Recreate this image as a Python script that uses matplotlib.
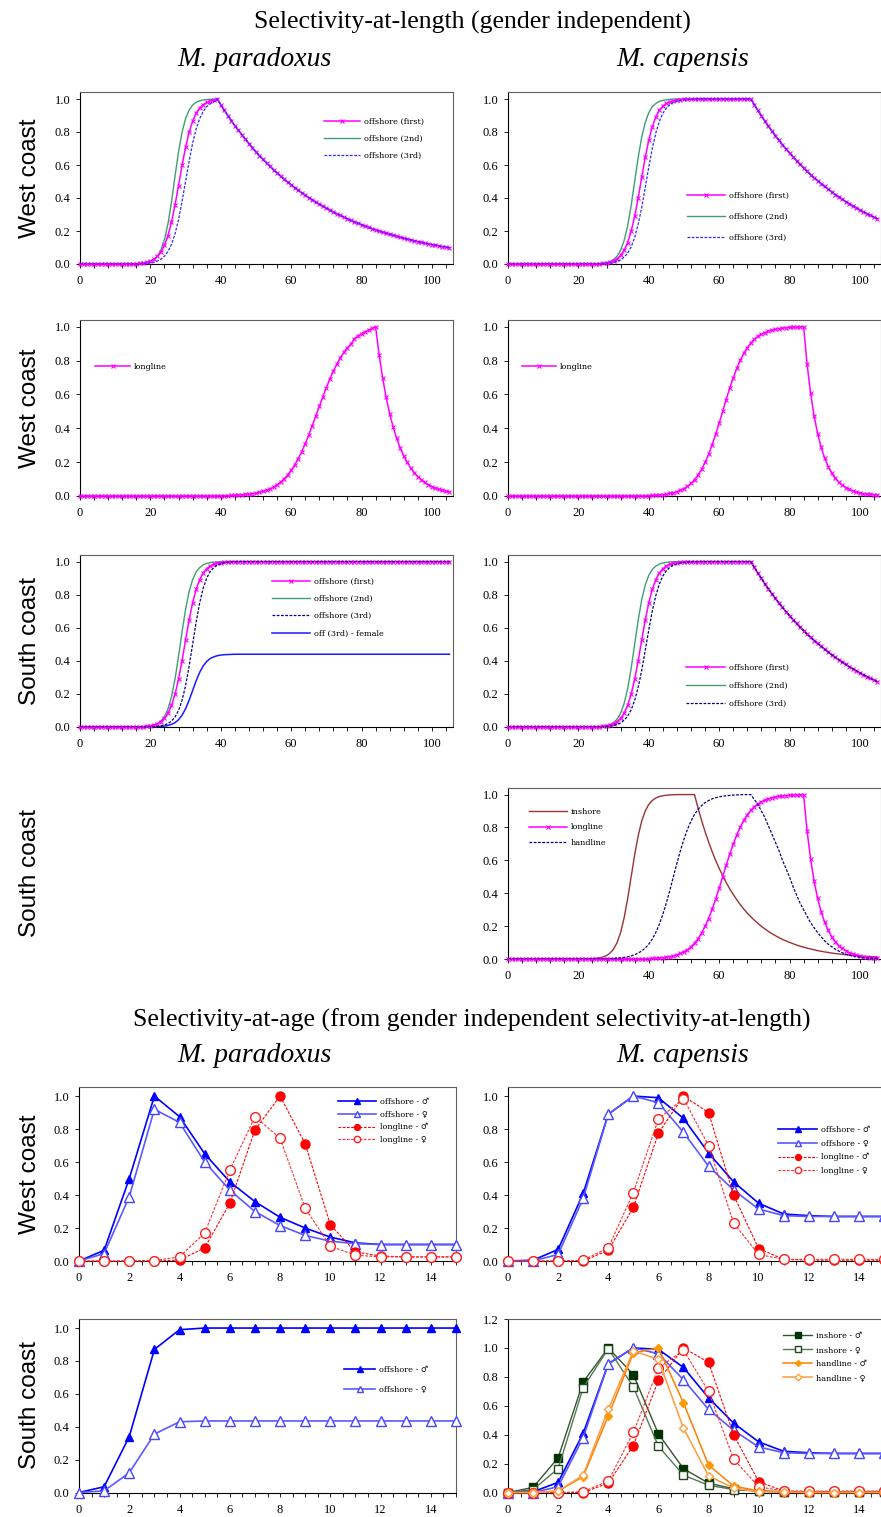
import numpy as np
import matplotlib.pyplot as plt
from matplotlib.ticker import MultipleLocator, FormatStrFormatter

# ---------------- data: selectivity-at-length (1 cm classes, 0-105 cm) ----------------
lengths = np.arange(0, 106)

# M. paradoxus, west coast, offshore
pw_off1_up = [0.001, 0.0015, 0.0025, 0.004, 0.0067, 0.011, 0.018, 0.029, 0.046, 0.072, 0.113, 0.172,
              0.254, 0.357, 0.475, 0.597, 0.707, 0.797, 0.865, 0.913, 0.945, 0.965, 0.979, 0.987, 0.992]  # 14-38
pw_off2_up = [0.004, 0.0075, 0.014, 0.026, 0.047, 0.085, 0.148, 0.244, 0.377, 0.531, 0.679, 0.799, 0.881,
              0.933, 0.963, 0.980, 0.989, 0.994, 0.997, 0.998, 0.999]  # 18-38
pw_off3_up = [0.0025, 0.004, 0.0067, 0.011, 0.018, 0.029, 0.047, 0.076, 0.119, 0.182, 0.269, 0.378, 0.5,
              0.622, 0.731, 0.818, 0.881, 0.924, 0.953, 0.971, 0.982]  # 18-38
pw_off_down = [1.000, 0.966, 0.932, 0.900, 0.869, 0.839, 0.811, 0.783, 0.756, 0.730, 0.705, 0.680, 0.657,
               0.634, 0.613, 0.592, 0.571, 0.552, 0.533, 0.514, 0.497, 0.480, 0.463, 0.447, 0.432, 0.417,
               0.403, 0.389, 0.375, 0.362, 0.350, 0.338, 0.326, 0.315, 0.304, 0.294, 0.284, 0.274, 0.264,
               0.255, 0.247, 0.238, 0.230, 0.222, 0.214, 0.207, 0.200, 0.193, 0.186, 0.180, 0.174, 0.168,
               0.162, 0.156, 0.151, 0.146, 0.141, 0.136, 0.131, 0.127, 0.122, 0.118, 0.114, 0.110, 0.106,
               0.103, 0.099]  # 39-105

# M. capensis, offshore (west and south coast look the same)
cw_off1_up = [0.0027, 0.0045, 0.0074, 0.012, 0.020, 0.032, 0.052, 0.083, 0.130, 0.198, 0.289, 0.401, 0.525,
              0.646, 0.750, 0.832, 0.891, 0.931, 0.957, 0.973, 0.984, 0.990, 0.994, 0.996, 0.998]  # 26-50
cw_off2_up = [0.0025, 0.0045, 0.008, 0.015, 0.027, 0.047, 0.083, 0.142, 0.231, 0.354, 0.5, 0.646, 0.769,
              0.858, 0.917, 0.953, 0.973, 0.985, 0.992, 0.995, 0.998]  # 26-46
cw_off3_up = [0.0035, 0.0058, 0.0095, 0.0155, 0.025, 0.041, 0.066, 0.104, 0.161, 0.241, 0.343, 0.463, 0.587,
              0.701, 0.794, 0.864, 0.913, 0.945, 0.966, 0.979, 0.987, 0.992, 0.995, 0.997, 0.998]  # 28-52
cw_off_down = [1.000, 0.965, 0.931, 0.898, 0.866, 0.835, 0.806, 0.777, 0.750, 0.723, 0.698, 0.673, 0.649,
               0.626, 0.604, 0.583, 0.562, 0.542, 0.523, 0.505, 0.487, 0.470, 0.453, 0.437, 0.421, 0.407,
               0.392, 0.378, 0.365, 0.352, 0.340, 0.327, 0.316, 0.305, 0.294, 0.284, 0.274]  # 69-105

# longline
pw_ll_up = [0.0018, 0.0023, 0.0028, 0.0036, 0.0045, 0.0056, 0.0071, 0.0089, 0.011, 0.014, 0.018, 0.022,
            0.028, 0.034, 0.043, 0.053, 0.066, 0.082, 0.101, 0.124, 0.151, 0.183, 0.220, 0.262, 0.309, 0.360,
            0.415, 0.471, 0.529, 0.585, 0.640, 0.691, 0.738, 0.780, 0.817, 0.849, 0.876, 0.899, 0.93, 0.945,
            0.96, 0.97, 0.98, 0.99]  # 40-83
pw_ll_down = [1.0, 0.835, 0.698, 0.583, 0.487, 0.407, 0.340, 0.284, 0.237, 0.198, 0.165, 0.138, 0.115,
              0.096, 0.080, 0.067, 0.056, 0.047, 0.039, 0.033, 0.027, 0.023]  # 84-105
cw_ll_up = [0.0028, 0.0037, 0.0049, 0.0064, 0.0085, 0.011, 0.015, 0.019, 0.026, 0.034, 0.044, 0.057, 0.074,
            0.096, 0.123, 0.157, 0.198, 0.246, 0.302, 0.364, 0.430, 0.5, 0.570, 0.636, 0.698, 0.754, 0.802,
            0.843, 0.877, 0.904, 0.926, 0.943, 0.956, 0.966, 0.974, 0.981, 0.985, 0.989, 0.992, 0.994, 0.996,
            0.997, 0.998, 0.999]  # 40-83
cw_ll_down = [1.0, 0.779, 0.607, 0.472, 0.368, 0.287, 0.223, 0.174, 0.135, 0.105, 0.082, 0.064, 0.050,
              0.039, 0.030, 0.024, 0.018, 0.014, 0.011, 0.009, 0.007, 0.005]  # 84-105

# M. paradoxus, south coast, offshore
ps_off1_up = [0.001, 0.0017, 0.0027, 0.0045, 0.0074, 0.012, 0.020, 0.032, 0.052, 0.083, 0.130, 0.198, 0.289,
              0.401, 0.525, 0.646, 0.750, 0.832, 0.891, 0.931, 0.957, 0.973, 0.984, 0.990, 0.994, 0.996,
              0.998]  # 16-42
ps_off2_up = [0.0018, 0.0033, 0.006, 0.011, 0.020, 0.036, 0.063, 0.109, 0.182, 0.289, 0.426, 0.574, 0.711,
              0.818, 0.891, 0.937, 0.964, 0.980, 0.989, 0.994, 0.997, 0.998]  # 18-39
ps_off3_up = [0.0014, 0.0024, 0.004, 0.007, 0.012, 0.021, 0.036, 0.060, 0.100, 0.161, 0.250, 0.366, 0.5,
              0.634, 0.750, 0.839, 0.900, 0.940, 0.964, 0.979, 0.988, 0.993, 0.996, 0.998]  # 20-43
ps_fem_up = [0.0006, 0.001, 0.0018, 0.003, 0.0053, 0.0092, 0.016, 0.026, 0.044, 0.071, 0.110, 0.161, 0.220,
             0.279, 0.330, 0.369, 0.396, 0.414, 0.424, 0.431, 0.435, 0.437, 0.438, 0.439]  # 20-43
ps_fem_top = 0.44

# M. capensis, south coast, inshore and handline
cs_in_up = [0.0008, 0.0014, 0.0024, 0.004, 0.007, 0.012, 0.021, 0.036, 0.060, 0.100, 0.161, 0.250, 0.366,
            0.5, 0.634, 0.750, 0.839, 0.900, 0.940, 0.964, 0.979, 0.988, 0.993, 0.996, 0.998, 0.999]  # 22-47
cs_in_down = [1.0, 0.918, 0.844, 0.775, 0.712, 0.654, 0.600, 0.552, 0.507, 0.465, 0.427, 0.393, 0.361,
              0.331, 0.304, 0.279, 0.257, 0.236, 0.217, 0.199, 0.183, 0.168, 0.154, 0.142, 0.130, 0.119,
              0.110, 0.101, 0.093, 0.085, 0.078, 0.072, 0.066, 0.061, 0.056, 0.051, 0.047, 0.043, 0.040,
              0.036, 0.033, 0.031, 0.028, 0.026, 0.024, 0.022, 0.020, 0.018, 0.017, 0.015, 0.014, 0.013,
              0.012]  # 53-105
cs_hl_up = [0.0036, 0.0051, 0.007, 0.0098, 0.0135, 0.0187, 0.026, 0.036, 0.049, 0.067, 0.090, 0.121, 0.161,
            0.211, 0.271, 0.341, 0.418, 0.5, 0.582, 0.659, 0.729, 0.789, 0.839, 0.879, 0.910, 0.933, 0.951,
            0.964, 0.974, 0.981, 0.986, 0.99, 0.993, 0.995, 0.997, 0.998, 0.999]  # 30-66
cs_hl_down = [1.0, 0.97, 0.94, 0.90, 0.86, 0.81, 0.76, 0.71, 0.66, 0.60, 0.55, 0.50, 0.44, 0.39, 0.34, 0.30,
              0.26, 0.22, 0.19, 0.16, 0.135, 0.11, 0.09, 0.075, 0.06, 0.048, 0.038, 0.03, 0.023, 0.018,
              0.014, 0.011, 0.008, 0.006, 0.005, 0.004, 0.003]  # 69-105

# ---------------- data: selectivity-at-age (0-15 yr) ----------------
ages = np.arange(0, 16)
pw_age_off_m = [0.0, 0.065, 0.50, 1.0, 0.875, 0.65, 0.48, 0.36, 0.265, 0.20, 0.145, 0.11, 0.10, 0.10, 0.10, 0.10]
pw_age_off_f = [0.0, 0.045, 0.39, 0.92, 0.84, 0.60, 0.43, 0.30, 0.215, 0.155, 0.12, 0.105, 0.10, 0.10, 0.10, 0.10]
pw_age_ll_m = [0.0, 0.0, 0.0, 0.0, 0.005, 0.08, 0.35, 0.795, 1.0, 0.71, 0.22, 0.055, 0.03, 0.025, 0.025, 0.025]
pw_age_ll_f = [0.0, 0.0, 0.0, 0.003, 0.025, 0.17, 0.55, 0.875, 0.745, 0.32, 0.09, 0.035, 0.025, 0.025, 0.025, 0.025]

cw_age_off_m = [0.0, 0.005, 0.07, 0.41, 0.89, 1.0, 0.99, 0.865, 0.655, 0.48, 0.35, 0.285, 0.275, 0.27, 0.27, 0.27]
cw_age_off_f = [0.0, 0.0, 0.04, 0.38, 0.89, 1.0, 0.96, 0.78, 0.575, 0.43, 0.315, 0.275, 0.27, 0.27, 0.27, 0.27]
cw_age_ll_m = [0.0, 0.0, 0.0, 0.0, 0.065, 0.325, 0.775, 1.0, 0.90, 0.40, 0.075, 0.01, 0.005, 0.005, 0.005, 0.005]
cw_age_ll_f = [0.0, 0.0, 0.0, 0.005, 0.08, 0.415, 0.86, 0.985, 0.70, 0.23, 0.04, 0.01, 0.01, 0.01, 0.01, 0.01]

ps_age_off_m = [0.0, 0.035, 0.34, 0.87, 0.99, 1.0, 1.0, 1.0, 1.0, 1.0, 1.0, 1.0, 1.0, 1.0, 1.0, 1.0]
ps_age_off_f = [0.0, 0.01, 0.12, 0.355, 0.43, 0.435, 0.435, 0.435, 0.435, 0.435, 0.435, 0.435, 0.435, 0.435, 0.435, 0.435]

cs_age_in_m = [0.0, 0.035, 0.24, 0.765, 1.0, 0.815, 0.405, 0.165, 0.065, 0.025, 0.01, 0.005, 0.003, 0.003, 0.003, 0.003]
cs_age_in_f = [0.0, 0.02, 0.165, 0.725, 0.995, 0.73, 0.32, 0.12, 0.05, 0.02, 0.01, 0.005, 0.003, 0.003, 0.003, 0.003]
cs_age_hl_m = [0.0, 0.0, 0.01, 0.11, 0.53, 0.965, 1.0, 0.62, 0.19, 0.045, 0.01, 0.003, 0.0, 0.0, 0.0, 0.0]
cs_age_hl_f = [0.0, 0.0, 0.01, 0.12, 0.575, 0.98, 0.92, 0.445, 0.115, 0.03, 0.005, 0.002, 0.0, 0.0, 0.0, 0.0]


def build(start, rise, fall=None, top=1.0):
    # zeros before the rise, flat top between rise and fall
    vals = [0.0] * start + list(rise)
    n_fall = 0 if fall is None else len(fall)
    vals += [top] * (len(lengths) - len(vals) - n_fall)
    if fall is not None:
        vals += list(fall)
    return np.array(vals)


W, H = 881, 1517
fig = plt.figure(figsize=(W / 100, H / 100), dpi=100)
LEG_FONT = ['DejaVu Serif', 'DejaVu Sans']

PINK = '#ff00ff'
GREEN = '#3f9f73'
BLUE = '#0000ff'
NAVY = '#000080'


def add_ax(left, top, right, bottom):
    return fig.add_axes([left / W, 1 - bottom / H, (right - left) / W, (bottom - top) / H])


def frame(ax):
    for s in ax.spines.values():
        s.set_color('#606060')
        s.set_linewidth(0.8)
    ax.spines['left'].set_color('black')
    ax.spines['bottom'].set_color('black')
    ax.tick_params(which='both', direction='out', length=3, width=0.6, labelsize=9,
                   top=False, right=False)
    ax.tick_params(axis='x', pad=5)
    ax.tick_params(axis='y', pad=4)
    for lab in ax.get_xticklabels() + ax.get_yticklabels():
        lab.set_family('Liberation Serif')
    ax.yaxis.set_major_formatter(FormatStrFormatter('%.1f'))


def style_len(ax):
    ax.set_xlim(0, 106)
    ax.set_ylim(0, 1.04)
    ax.xaxis.set_major_locator(MultipleLocator(20))
    ax.xaxis.set_minor_locator(MultipleLocator(4))
    ax.yaxis.set_major_locator(MultipleLocator(0.2))
    frame(ax)


def style_age(ax, ymax=1.055):
    ax.set_xlim(0, 15)
    ax.set_ylim(0, ymax)
    ax.xaxis.set_major_locator(MultipleLocator(2))
    ax.xaxis.set_minor_locator(MultipleLocator(0.5))
    ax.yaxis.set_major_locator(MultipleLocator(0.2))
    frame(ax)


def legend_at(ax, handles, x, y, spacing, hl_px, fs=5.9, mscale=1.0):
    fs_px = fs * 100 / 72
    ls = max((spacing - 1.25 * fs_px) / fs_px, 0.0)
    ax.legend(handles=handles, loc='upper left',
              bbox_to_anchor=(x / W, 1 - (y - 0.65 * fs_px) / H), bbox_transform=fig.transFigure,
              frameon=False, borderpad=0, borderaxespad=0, handlelength=hl_px / fs_px,
              handletextpad=0.5, labelspacing=ls, markerscale=mscale,
              prop={'family': LEG_FONT, 'size': fs})


def pink(ax, y, label):
    return ax.plot(lengths, y, color=PINK, lw=1.1, marker='x', ms=3.5, mew=0.8,
                   label=label, clip_on=False, zorder=3)[0]


def green(ax, y, label):
    return ax.plot(lengths, y, color=GREEN, lw=1.0, label=label, zorder=2)[0]


def dashed(ax, y, label, color):
    return ax.plot(lengths, y, color=color, lw=0.9, dashes=(2.2, 1.2), label=label, zorder=4)[0]


LEFT = (80, 453)
RIGHT = (508, 881)
ROWS = [(92.4, 264), (320, 496), (555, 727), (788, 959)]

# ---- row 1: west coast offshore ----
ax = add_ax(LEFT[0], ROWS[0][0], LEFT[1], ROWS[0][1])
h1 = pink(ax, build(14, pw_off1_up, pw_off_down), 'offshore (first)')
h2 = green(ax, build(18, pw_off2_up, pw_off_down), 'offshore (2nd)')
h3 = dashed(ax, build(18, pw_off3_up, pw_off_down), 'offshore (3rd)', '#2a2aff')
style_len(ax)
legend_at(ax, [h1, h2, h3], 324, 123, 19.3, 36)

ax = add_ax(RIGHT[0], ROWS[0][0], RIGHT[1], ROWS[0][1])
h1 = pink(ax, build(26, cw_off1_up, cw_off_down), 'offshore (first)')
h2 = green(ax, build(26, cw_off2_up, cw_off_down), 'offshore (2nd)')
h3 = dashed(ax, build(28, cw_off3_up, cw_off_down), 'offshore (3rd)', '#2a2aff')
style_len(ax)
legend_at(ax, [h1, h2, h3], 687, 197, 23.3, 38)

# ---- row 2: west coast longline ----
ax = add_ax(LEFT[0], ROWS[1][0], LEFT[1], ROWS[1][1])
h1 = pink(ax, build(40, pw_ll_up, pw_ll_down), 'longline')
style_len(ax)
legend_at(ax, [h1], 95, 368, 19, 35)

ax = add_ax(RIGHT[0], ROWS[1][0], RIGHT[1], ROWS[1][1])
h1 = pink(ax, build(40, cw_ll_up, cw_ll_down), 'longline')
style_len(ax)
legend_at(ax, [h1], 522, 368, 19, 34)

# ---- row 3: south coast offshore ----
ax = add_ax(LEFT[0], ROWS[2][0], LEFT[1], ROWS[2][1])
h1 = pink(ax, build(16, ps_off1_up), 'offshore (first)')
h2 = green(ax, build(18, ps_off2_up), 'offshore (2nd)')
h3 = dashed(ax, build(20, ps_off3_up), 'offshore (3rd)', NAVY)
h4 = ax.plot(lengths, build(20, ps_fem_up, top=ps_fem_top), color='#1a1aff', lw=1.1,
             label='off (3rd) - female')[0]
style_len(ax)
legend_at(ax, [h1, h2, h3, h4], 272, 583, 19.5, 38)

ax = add_ax(RIGHT[0], ROWS[2][0], RIGHT[1], ROWS[2][1])
h1 = pink(ax, build(26, cw_off1_up, cw_off_down), 'offshore (first)')
h2 = green(ax, build(26, cw_off2_up, cw_off_down), 'offshore (2nd)')
h3 = dashed(ax, build(28, cw_off3_up, cw_off_down), 'offshore (3rd)', NAVY)
style_len(ax)
legend_at(ax, [h1, h2, h3], 686, 669, 20.5, 39)

# ---- row 4: south coast, M. capensis inshore / longline / handline ----
ax = add_ax(RIGHT[0], ROWS[3][0], RIGHT[1], ROWS[3][1])
h1 = ax.plot(lengths, build(22, cs_in_up, cs_in_down), color='#993333', lw=1.0, label='inshore')[0]
h2 = pink(ax, build(40, cw_ll_up, cw_ll_down), 'longline')
h3 = dashed(ax, build(30, cs_hl_up, cs_hl_down), 'handline', NAVY)
style_len(ax)
legend_at(ax, [h1, h2, h3], 529, 813, 18, 38)

# ---------------- age panels ----------------
AROW5 = (1087, 1261)
AROW6 = (1319, 1492.5)


def age_off(ax, m, f):
    a = ax.plot(ages, m, color=BLUE, lw=1.2, marker='^', ms=6, mfc=BLUE, mec=BLUE,
                label='offshore - \u2642', clip_on=False, zorder=4)[0]
    b = ax.plot(ages, f, color='#5a5aff', lw=1.2, marker='^', ms=6.5, mfc='white', mec='#4646ff',
                mew=1.0, label='offshore - \u2640', clip_on=False, zorder=4)[0]
    return a, b


def age_ll(ax, m, f):
    a = ax.plot(ages, m, color='#ff0000', lw=0.8, dashes=(2.5, 1.3), marker='o', ms=6.5, mfc='#ff0000',
                mec='#ff0000', label='longline - \u2642', clip_on=False, zorder=5)[0]
    b = ax.plot(ages, f, color='#ff3030', lw=0.8, dashes=(2.5, 1.3), marker='o', ms=7, mfc='white',
                mec='#ff2020', mew=1.0, label='longline - \u2640', clip_on=False, zorder=5)[0]
    return a, b


ax = add_ax(79, AROW5[0], 456, AROW5[1])
a, b = age_off(ax, pw_age_off_m, pw_age_off_f)
c, d = age_ll(ax, pw_age_ll_m, pw_age_ll_f)
style_age(ax)
legend_at(ax, [a, b, c, d], 338, 1103, 15, 38, mscale=0.65)

ax = add_ax(508, AROW5[0], 884, AROW5[1])
a, b = age_off(ax, cw_age_off_m, cw_age_off_f)
c, d = age_ll(ax, cw_age_ll_m, cw_age_ll_f)
style_age(ax)
legend_at(ax, [a, b, c, d], 778, 1131, 16, 39, mscale=0.65)

ax = add_ax(79, AROW6[0], 456, AROW6[1])
a, b = age_off(ax, ps_age_off_m, ps_age_off_f)
style_age(ax)
legend_at(ax, [a, b], 344, 1371, 22, 31, mscale=0.65)

ax = add_ax(508, AROW6[0], 884, AROW6[1])
e = ax.plot(ages, cs_age_in_m, color='#335533', lw=1.0, marker='s', ms=6, mfc='#003300', mec='#003300',
            label='inshore - \u2642', clip_on=False, zorder=3)[0]
f = ax.plot(ages, cs_age_in_f, color='#557755', lw=1.0, marker='s', ms=6, mfc='white', mec='#1e4a1e',
            mew=1.0, label='inshore - \u2640', clip_on=False, zorder=3)[0]
age_off(ax, cw_age_off_m, cw_age_off_f)
age_ll(ax, cw_age_ll_m, cw_age_ll_f)
g = ax.plot(ages, cs_age_hl_m, color='#ff8000', lw=1.1, marker='D', ms=4, mfc='#ff9900', mec='#ff9900',
            label='handline - \u2642', clip_on=False, zorder=6)[0]
hh = ax.plot(ages, cs_age_hl_f, color='#ff9a40', lw=1.1, marker='D', ms=4.5, mfc='white', mec='#ffa040',
             label='handline - \u2640', clip_on=False, zorder=6)[0]
style_age(ax, ymax=1.2)
legend_at(ax, [e, f, g, hh], 783, 1337, 16.2, 29, mscale=0.75)

# ---------------- titles and row labels ----------------
fig.text(472 / W, 1 - 22 / H, 'Selectivity-at-length (gender independent)', ha='center', va='center',
         fontsize=18.5, family='Liberation Serif')
fig.text(472 / W, 1 - 1020 / H, 'Selectivity-at-age (from gender independent selectivity-at-length)',
         ha='center', va='center', fontsize=18.5, family='Liberation Serif')
for yy in (60, 1056):
    fig.text(254 / W, 1 - yy / H, 'M. paradoxus', ha='center', va='center', fontsize=20,
             family='Liberation Serif', style='italic')
    fig.text(683 / W, 1 - yy / H, 'M. capensis', ha='center', va='center', fontsize=20,
             family='Liberation Serif', style='italic')

row_labels = [('West coast', 178), ('West coast', 408), ('South coast', 641), ('South coast', 873),
              ('West coast', 1174), ('South coast', 1405)]
for txt, yy in row_labels:
    fig.text(30 / W, 1 - yy / H, txt, rotation=90, ha='center', va='center', fontsize=17.5,
             family='Liberation Sans')

fig.savefig('out.png', dpi=100)
